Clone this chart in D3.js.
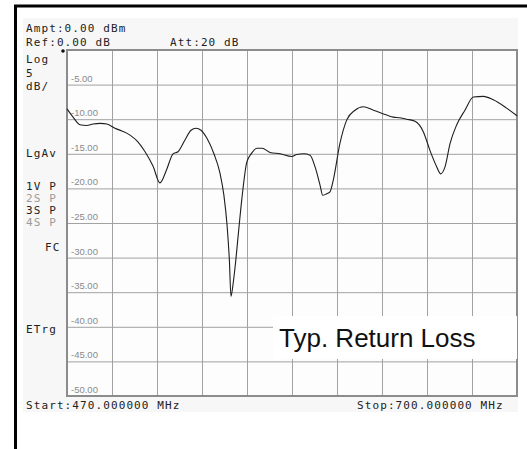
<!DOCTYPE html>
<html>
<head>
<meta charset="utf-8">
<script src="https://cdn.jsdelivr.net/npm/d3@7/dist/d3.min.js"></script>
<style>
  html, body { margin: 0; padding: 0; background: #fff; overflow: hidden; }
  svg { display: block; }
  .mono { font-family: "DejaVu Sans Mono", monospace; font-size: 11px; letter-spacing: 1.1px; fill: #222; }
  .dim { fill: #9a9a9a; }
  .ylab { font-family: "Liberation Sans", Arial, sans-serif; font-size: 9.5px; fill: #8a8a8a; }
</style>
</head>
<body>
<svg id="chart"></svg>
<script>
// trace: frequency (MHz) / return loss (dB)
const freqs = [470, 473.1, 476.6, 480.0, 483.3, 487.0, 490.4, 494.5, 498.0, 502.2,
  506.0, 509.9, 514.0, 517.5, 520.9, 524.2, 526.7, 530.3, 533.4, 535.9,
  538.5, 541.6, 545.1, 548.2, 550.2, 551.8, 553.0, 553.8, 554.8, 555.9,
  557.6, 559.3, 561.9, 564.4, 567.0, 569.7, 573.8, 578.9, 584.9, 587.4,
  591.0, 594.2, 596.8, 599.3, 600.7, 602.5, 604.4, 606.1, 609.5, 613.0,
  617.2, 621.4, 626.6, 633.4, 636.8, 640.0, 643.6, 647.9, 652.1, 655.5,
  659.0, 661.0, 663.2, 665.8, 669.2, 673.4, 677.7, 682.8, 687.9, 694.7,
  700];
const returnLoss = [-8.5, -9.7, -10.8, -10.9, -10.7, -10.6, -10.7, -11.3, -11.7, -12.3,
  -13.2, -14.7, -16.8, -19.2, -17.3, -15.0, -14.7, -13.0, -11.6, -11.3,
  -11.6, -12.8, -15.0, -17.8, -21.0, -25.3, -30.4, -35.6, -34.0, -31.4,
  -26.5, -21.7, -16.2, -14.9, -14.2, -14.2, -14.8, -15.0, -15.4, -15.1,
  -15.0, -15.2, -16.9, -19.5, -21.0, -20.8, -20.5, -18.8, -13.5, -10.1,
  -8.7, -8.2, -8.7, -9.4, -9.7, -9.8, -10.0, -10.3, -11.8, -14.5,
  -16.9, -17.9, -16.9, -13.5, -10.8, -8.7, -6.8, -6.7, -7.2, -8.4,
  -9.5];

const freqGrid = [470, 493, 516, 539, 562, 585, 608, 631, 654, 677, 700];
const dbGrid = [0, -5, -10, -15, -20, -25, -30, -35, -40, -45, -50];
const dbLabels = ["-5.00", "-10.00", "-15.00", "-20.00", "-25.00", "-30.00", "-35.00", "-40.00", "-45.00", "-50.00"];

const W = 527, H = 449;
const plot = { left: 67, top: 50, right: 517, bottom: 396 };

const svg = d3.select('#chart').attr('width', W).attr('height', H);

const x = d3.scaleLinear().domain([470, 700]).range([plot.left, plot.right]);
const y = d3.scaleLinear().domain([0, -50]).range([plot.top, plot.bottom]);

// screen background + photo frame (only top and left edges are in the picture)
svg.append('rect').attr('x', 23).attr('y', 18).attr('width', 495).attr('height', 394)
  .attr('fill', '#f7f7f7');
svg.append('path')
  .attr('d', `M15.5,${H} V6 H${W}`)
  .attr('fill', 'none').attr('stroke', '#000').attr('stroke-width', 3);
svg.append('rect').attr('x', plot.left).attr('y', plot.top)
  .attr('width', plot.right - plot.left).attr('height', plot.bottom - plot.top)
  .attr('fill', '#fdfdfd');

// grid
const grid = svg.append('g');
grid.append('g')
  .attr('transform', `translate(0,${plot.bottom})`)
  .call(d3.axisBottom(x).tickValues(freqGrid).tickSize(-(plot.bottom - plot.top)).tickFormat(''))
  .call(g => g.select('.domain').remove())
  .selectAll('line').attr('stroke', '#a2a2a2');
grid.append('g')
  .attr('transform', `translate(${plot.left},0)`)
  .call(d3.axisLeft(y).tickValues(dbGrid).tickSize(-(plot.right - plot.left)).tickFormat(''))
  .call(g => g.select('.domain').remove())
  .selectAll('line').attr('stroke', '#a2a2a2');
svg.append('rect').attr('x', plot.left).attr('y', plot.top)
  .attr('width', plot.right - plot.left).attr('height', plot.bottom - plot.top)
  .attr('fill', 'none').attr('stroke', '#8c8c8c').attr('stroke-width', 2);

// y labels, sitting just above each grid line
svg.append('g').selectAll('text')
  .data(dbLabels)
  .enter().append('text')
  .attr('class', 'ylab')
  .attr('x', plot.left + 4)
  .attr('y', (d, i) => y(dbGrid[i + 1]) - 3)
  .text(d => d);

// trace
const pts = freqs.map((f, i) => [f, returnLoss[i]]);
svg.append('path')
  .datum(pts)
  .attr('fill', 'none')
  .attr('stroke', '#1e1e1e')
  .attr('stroke-width', 1.1)
  .attr('d', d3.line().x(d => x(d[0])).y(d => y(d[1])).curve(d3.curveMonotoneX));

// reference marker
svg.append('circle').attr('cx', plot.left - 4).attr('cy', plot.top + 1).attr('r', 1.8).attr('fill', '#111');

// screen annotations
const notes = [
  { t: 'Ampt:0.00 dBm', x: 26, y: 32 },
  { t: 'Ref:0.00 dB', x: 26, y: 46 },
  { t: 'Att:20 dB', x: 170, y: 46 },
  { t: 'Log', x: 26, y: 63 },
  { t: '5', x: 26, y: 77 },
  { t: 'dB/', x: 26, y: 90 },
  { t: 'LgAv', x: 26, y: 157 },
  { t: '1V P', x: 26, y: 190 },
  { t: '2S P', x: 26, y: 202 },
  { t: '3S P', x: 26, y: 214 },
  { t: '4S P', x: 26, y: 226 },
  { t: 'FC', x: 45, y: 251 },
  { t: 'ETrg', x: 26, y: 333 },
  { t: 'Start:470.000000 MHz', x: 26, y: 409 },
  { t: 'Stop:700.000000 MHz', x: 357, y: 409 }
];
const dimmed = ['2S P', '4S P'];
svg.append('g').selectAll('text')
  .data(notes)
  .enter().append('text')
  .attr('class', d => dimmed.includes(d.t) ? 'mono dim' : 'mono')
  .attr('x', d => d.x)
  .attr('y', d => d.y)
  .text(d => d.t);

// caption box
svg.append('rect').attr('x', 273).attr('y', 316).attr('width', 244).attr('height', 43).attr('fill', '#fff');
svg.append('text')
  .attr('x', 279).attr('y', 347)
  .style('font-family', '"Liberation Sans", Arial, sans-serif')
  .style('font-size', '26px')
  .style('fill', '#111')
  .text('Typ. Return Loss');
</script>
</body>
</html>
